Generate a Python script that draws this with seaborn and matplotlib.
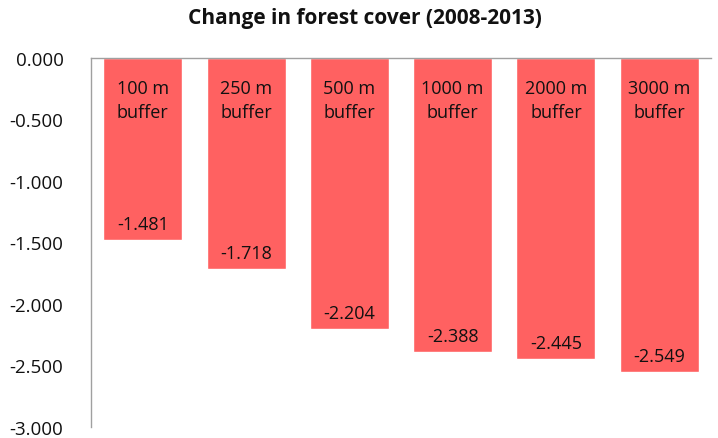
import matplotlib
matplotlib.use("Agg")
import matplotlib.pyplot as plt
import seaborn as sns
import pandas as pd

buffers = ["100 m\nbuffer", "250 m\nbuffer", "500 m\nbuffer",
           "1000 m\nbuffer", "2000 m\nbuffer", "3000 m\nbuffer"]
change = [-1.481, -1.718, -2.204, -2.388, -2.445, -2.549]
yticks = [0, -0.5, -1.0, -1.5, -2.0, -2.5, -3.0]

df = pd.DataFrame({"buffer": buffers, "change": change})

sns.set_theme(style="white")
plt.rcParams["font.family"] = ["Open Sans", "DejaVu Sans"]

fig = plt.figure(figsize=(7.18, 4.39), dpi=100)
ax = fig.add_axes([0.127, 0.025, 0.863, 0.841])

sns.barplot(data=df, x="buffer", y="change", color="#FF6161",
            saturation=1, width=0.765, ax=ax)

# category names inside the bars, value labels near the bar ends
for i, (name, val) in enumerate(zip(buffers, change)):
    ax.text(i, -0.345, name, ha="center", va="center", fontsize=13,
            color="#111111", linespacing=1.45)
    ax.annotate(f"{val:.3f}", (i, val), xytext=(0, 11.5),
                textcoords="offset points", ha="center", va="center",
                fontsize=13, color="#111111")

ax.set_ylim(-3.0, 0)
ax.set_xlim(-0.5, 5.5)
ax.set_yticks(yticks)
ax.set_yticklabels([f"{t:.3f}" for t in yticks], fontsize=13.5, color="#111111")
ax.tick_params(axis="y", length=0, pad=20)
ax.set_xticks([])
ax.set_xlabel("")
ax.set_ylabel("")

for s in ["right", "bottom"]:
    ax.spines[s].set_visible(False)
for s in ["left", "top"]:
    ax.spines[s].set_color("#A0A0A0")
    ax.spines[s].set_linewidth(1.0)

fig.text(0.508, 0.957, "Change in forest cover (2008-2013)", ha="center",
         va="center", fontsize=15, fontweight="bold", color="#111111")

fig.savefig("out.png", dpi=100)
